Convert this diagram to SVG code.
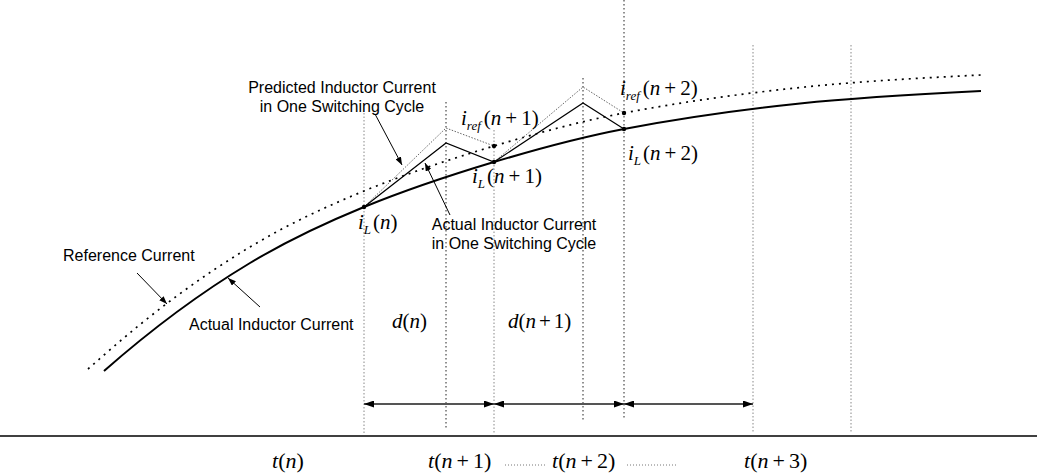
<svg xmlns="http://www.w3.org/2000/svg" width="1037" height="476" viewBox="0 0 1037 476">
<style>
.lbl{font-family:"Liberation Sans",Arial,sans-serif;font-size:16px;fill:#000}
.m{font-family:"Liberation Serif","Times New Roman",serif;font-size:21px;fill:#000}
.t{font-size:22px}
.it{font-style:italic}
.sub{font-size:13px;font-style:italic}
.vd{stroke:#222;stroke-width:1;stroke-dasharray:1.5 2.5;fill:none}
.vl{stroke:#888;stroke-width:1;stroke-dasharray:1.5 2;fill:none}
.ref{stroke:#000;stroke-width:1.7;stroke-dasharray:2 5;fill:none}
.act{stroke:#000;stroke-width:2;fill:none}
.zig{stroke:#000;stroke-width:1.2;fill:none}
.pred{stroke:#666;stroke-width:1;stroke-dasharray:1.5 1.5;fill:none}
.ptr{stroke:#000;stroke-width:1;fill:none;marker-end:url(#ah)}
.dim{stroke:#555;stroke-width:2;fill:none;marker-start:url(#dh);marker-end:url(#dh)}
.sep{stroke:#777;stroke-width:1;stroke-dasharray:1 2;fill:none}
</style>
<defs>
<marker id="ah" viewBox="0 0 8 6" refX="8" refY="3" markerWidth="8" markerHeight="6" markerUnits="userSpaceOnUse" orient="auto"><path d="M0,0 L8,3 L0,6 z" fill="#000"/></marker>
<marker id="dh" viewBox="0 0 10 7" refX="10" refY="3.5" markerWidth="10" markerHeight="7" markerUnits="userSpaceOnUse" orient="auto-start-reverse"><path d="M0,0 L10,3.5 L0,7 z" fill="#000"/></marker>
</defs>

<g id="gridlines">
<line class="vl" x1="364" y1="113" x2="364" y2="433"/>
<line class="vd" x1="446" y1="102" x2="446" y2="428"/>
<line class="vl" x1="494" y1="130" x2="494" y2="433"/>
<line class="vd" x1="583" y1="78" x2="583" y2="422"/>
<line class="vd" x1="624" y1="0" x2="624" y2="418"/>
<line class="vl" x1="753" y1="45" x2="753" y2="433"/>
<line class="vl" x1="851" y1="45" x2="851" y2="433"/>
</g>

<g id="axis">
<line x1="0" y1="436" x2="1037" y2="436" stroke="#000" stroke-width="1.5"/>
</g>

<g id="reference-current">
<path class="ref" d="M88,369 C93.33,364.3 98.67,359.7 104,355 C152.67,312.17 201.33,276.2 250,247 C288,224.2 326,206.58 364,191 C407.33,173.23 450.67,159 494,146 C537.33,133 580.67,121.23 624,113 C682.67,101.85 741.33,93.66 800,87.5 C860.33,81.17 920.67,78.02 981,75"/>
</g>

<g id="actual-current">
<path class="act" d="M104,371 C152.67,328.17 201.33,292.2 250,263 C288,240.2 326,222.58 364,207 C407.33,189.23 450.67,175 494,162 C537.33,149 580.67,137.23 624,129 C682.67,117.85 741.33,109.66 800,103.5 C860.33,97.17 920.67,94.02 981,91"/>
</g>

<g id="predicted-cycles">
<polyline class="pred" points="364,207 446,128 494,146"/>
<polyline class="pred" points="494,162 583,87 624,113"/>
</g>

<g id="actual-cycles">
<polyline class="zig" points="364,207 446,143 494,162 583,103 624,129"/>
</g>

<g id="points">
<circle cx="364" cy="207" r="2.2"/>
<circle cx="494" cy="162" r="2.2"/>
<circle cx="494" cy="146" r="2.2"/>
<circle cx="624" cy="113" r="2.2"/>
<circle cx="624" cy="129" r="2.2"/>
</g>

<g id="connectors">
<line class="ptr" x1="375" y1="114" x2="402" y2="165"/>
<line class="ptr" x1="450" y1="215" x2="425" y2="163"/>
<line class="ptr" x1="137" y1="273" x2="167" y2="304"/>
<line class="ptr" x1="260" y1="307" x2="228" y2="278"/>
<line class="dim" x1="364" y1="404" x2="494" y2="404"/>
<line class="dim" x1="494" y1="404" x2="624" y2="404"/>
<line class="dim" x1="624" y1="404" x2="753" y2="404"/>
</g>

<g id="label-predicted">
<text class="lbl" text-anchor="middle"><tspan x="342" y="93">Predicted Inductor Current</tspan><tspan x="342" y="112">in One Switching Cycle</tspan></text>
</g>
<g id="label-actual-cycle">
<text class="lbl" text-anchor="middle"><tspan x="514" y="230">Actual Inductor Current</tspan><tspan x="514" y="249">in One Switching Cycle</tspan></text>
</g>
<g id="label-reference">
<text class="lbl" x="63" y="261">Reference Current</text>
</g>
<g id="label-actual">
<text class="lbl" x="189" y="330">Actual Inductor Current</text>
</g>

<g id="label-iref1">
<text class="m" x="461" y="125"><tspan class="it">i</tspan><tspan class="sub" dy="5">ref</tspan><tspan dy="-5" dx="3">(</tspan><tspan class="it">n</tspan><tspan dx="4">+</tspan><tspan dx="4">1)</tspan></text>
</g>
<g id="label-iref2">
<text class="m" x="620" y="95"><tspan class="it">i</tspan><tspan class="sub" dy="5">ref</tspan><tspan dy="-5" dx="3">(</tspan><tspan class="it">n</tspan><tspan dx="4">+</tspan><tspan dx="4">2)</tspan></text>
</g>
<g id="label-iL0">
<text class="m" x="358" y="229"><tspan class="it">i</tspan><tspan class="sub" dy="5">L</tspan><tspan dy="-5" dx="2">(</tspan><tspan class="it">n</tspan>)</text>
</g>
<g id="label-iL1">
<text class="m" x="472" y="183"><tspan class="it">i</tspan><tspan class="sub" dy="5">L</tspan><tspan dy="-5" dx="2">(</tspan><tspan class="it">n</tspan><tspan dx="4">+</tspan><tspan dx="4">1)</tspan></text>
</g>
<g id="label-iL2">
<text class="m" x="628" y="160"><tspan class="it">i</tspan><tspan class="sub" dy="5">L</tspan><tspan dy="-5" dx="2">(</tspan><tspan class="it">n</tspan><tspan dx="4">+</tspan><tspan dx="4">2)</tspan></text>
</g>

<g id="label-dn">
<text class="m" x="392" y="328"><tspan class="it">d</tspan>(<tspan class="it">n</tspan>)</text>
</g>
<g id="label-dn1">
<text class="m" x="508" y="328"><tspan class="it">d</tspan>(<tspan class="it">n</tspan><tspan dx="3">+</tspan><tspan dx="3">1)</tspan></text>
</g>

<g id="label-tn">
<text class="m t" x="272" y="468"><tspan class="it">t</tspan>(<tspan class="it">n</tspan>)</text>
</g>
<g id="label-tn1">
<text class="m t" x="428" y="468"><tspan class="it">t</tspan>(<tspan class="it">n</tspan><tspan dx="4">+</tspan><tspan dx="4">1)</tspan></text>
</g>
<g id="label-tn2">
<text class="m t" x="552" y="468"><tspan class="it">t</tspan>(<tspan class="it">n</tspan><tspan dx="4">+</tspan><tspan dx="4">2)</tspan></text>
</g>
<g id="label-tn3">
<text class="m t" x="744" y="468"><tspan class="it">t</tspan>(<tspan class="it">n</tspan><tspan dx="4">+</tspan><tspan dx="4">3)</tspan></text>
</g>
<g id="separators">
<line class="sep" x1="505" y1="465" x2="545" y2="465"/>
<line class="sep" x1="627" y1="465" x2="676" y2="465"/>
</g>
</svg>
